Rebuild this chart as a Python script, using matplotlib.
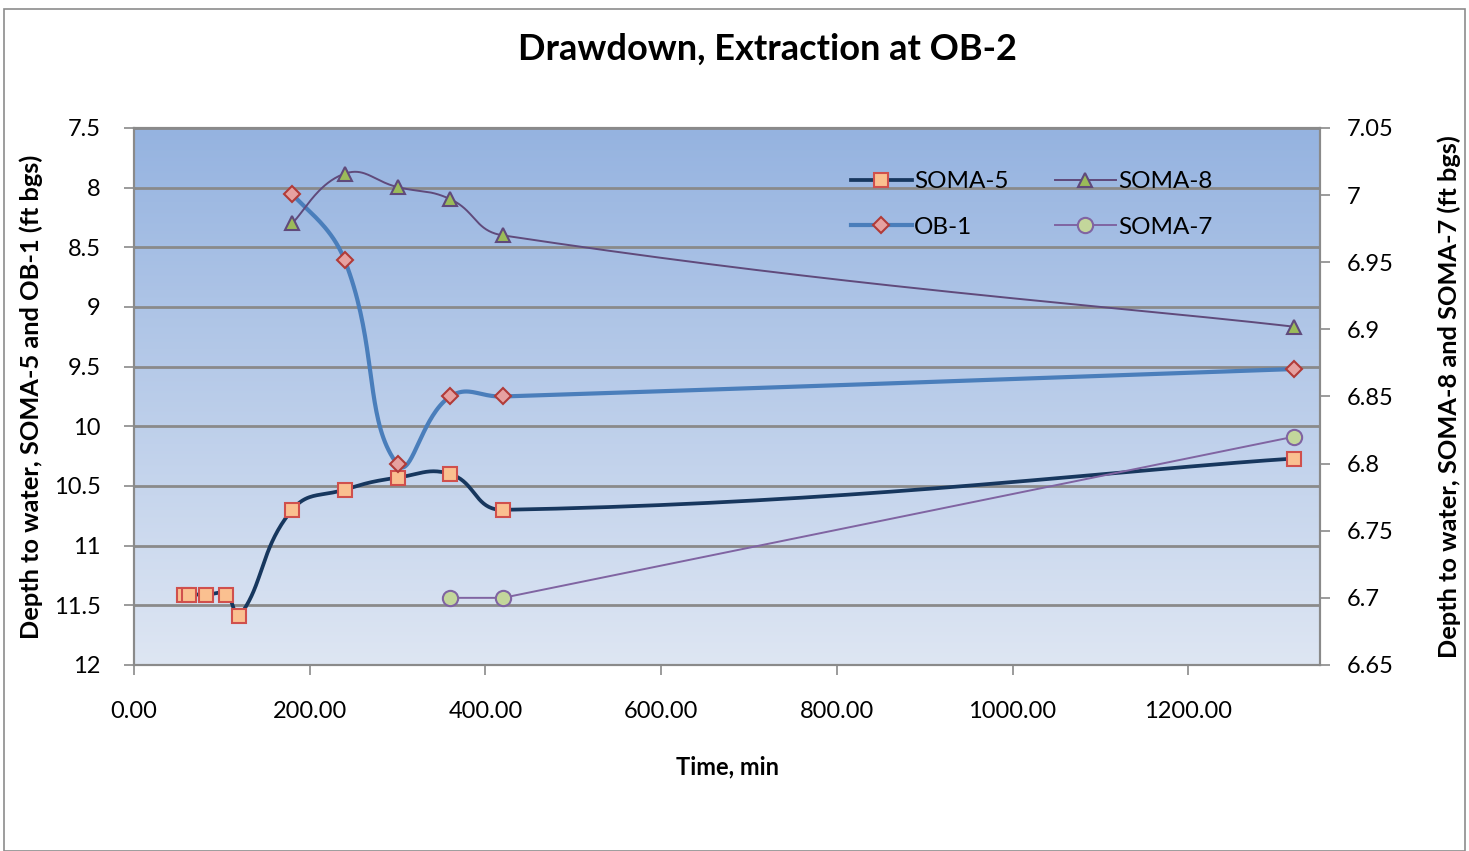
import numpy as np
import matplotlib
matplotlib.use("Agg")
import matplotlib.pyplot as plt
from matplotlib.patches import Rectangle
from matplotlib.lines import Line2D

plt.rcParams['font.family'] = ['Lato', 'DejaVu Sans']

# --- data ---
soma5_t = [57, 63, 82, 105, 120, 180, 240, 300, 360, 420, 1320]
soma5_d = [11.41, 11.41, 11.41, 11.41, 11.59, 10.70, 10.53, 10.43, 10.40, 10.70, 10.27]

ob1_t = [180, 240, 300, 360, 420, 1320]
ob1_d = [8.05, 8.61, 10.32, 9.75, 9.75, 9.52]

soma8_t = [180, 240, 300, 360, 420, 1320]
soma8_d = [6.979, 7.016, 7.006, 6.997, 6.970, 6.902]

soma7_t = [360, 420, 1320]
soma7_d = [6.70, 6.70, 6.82]

left_ticks = [7.5, 8, 8.5, 9, 9.5, 10, 10.5, 11, 11.5, 12]
right_ticks = [7.05, 7.0, 6.95, 6.9, 6.85, 6.8, 6.75, 6.7, 6.65]
x_ticks = [0, 200, 400, 600, 800, 1000, 1200]


def smooth(xs, ys, sx, sy, f=0.45, n=40):
    # Excel-like smoothed line: bezier segments, tangents built in pixel space
    p = np.column_stack([np.array(xs, float) * sx, np.array(ys, float) * sy])
    m = len(p)
    tan_in = np.zeros_like(p)
    tan_out = np.zeros_like(p)
    for i in range(m):
        a = p[max(i - 1, 0)]
        b = p[min(i + 1, m - 1)]
        d0 = np.linalg.norm(p[i] - a)
        d1 = np.linalg.norm(b - p[i])
        tot = d0 + d1
        if tot == 0:
            continue
        tan_in[i] = -f * d0 / tot * (b - a)
        tan_out[i] = f * d1 / tot * (b - a)
    pts = [p[0]]
    tt = np.linspace(0, 1, n)[1:, None]
    for i in range(m - 1):
        p0, p3 = p[i], p[i + 1]
        c1 = p0 + tan_out[i] * (0.5 if i == 0 else 1)
        c2 = p3 + tan_in[i + 1] * (0.5 if i + 1 == m - 1 else 1)
        seg = ((1 - tt) ** 3) * p0 + 3 * ((1 - tt) ** 2) * tt * c1 + 3 * (1 - tt) * tt ** 2 * c2 + tt ** 3 * p3
        pts.extend(seg)
    pts = np.array(pts)
    return pts[:, 0] / sx, pts[:, 1] / sy


fig = plt.figure(figsize=(14.69, 8.51), dpi=100)
fig.patches.append(Rectangle((0.003, 0.0), 0.994, 0.99, transform=fig.transFigure,
                             fill=False, edgecolor='#8c8c8c', linewidth=1.2))

ax = fig.add_axes([0.0912, 0.2186, 0.8074, 0.631])
ax2 = ax.twinx()

# gradient background
grad = np.linspace(0, 1, 256)[:, None]
top = np.array([0x95, 0xB3, 0xE0]) / 255
bot = np.array([0xDE, 0xE6, 0xF3]) / 255
img = top * (1 - grad[..., None]) + bot * grad[..., None]
img = np.repeat(img, 2, axis=1)
ax.imshow(img, extent=[0, 1, 0, 1], transform=ax.transAxes, aspect='auto', zorder=0)

ax.set_xlim(0, 1350)
ax.set_ylim(12, 7.5)
ax2.set_ylim(6.65, 7.05)
ax2.patch.set_visible(False)

ax.set_yticks(left_ticks)
ax.set_yticklabels(['%g' % v for v in left_ticks])
ax2.set_yticks(right_ticks)
ax2.set_yticklabels(['%g' % v for v in right_ticks])
ax.set_xticks(x_ticks)
ax.set_xticklabels(['%.2f' % v for v in x_ticks])

ax.grid(axis='y', color='#8a8a8a', linewidth=2.0, zorder=1)
ax.set_axisbelow(True)

sx = 0.878
sy_l = 119.3
sy_r = 1342.5

x5, y5 = smooth(soma5_t, soma5_d, sx, sy_l)
ax.plot(x5, y5, color='#17375E', linewidth=2.7, zorder=3)
ax.plot(soma5_t, soma5_d, linestyle='none', marker='s', markersize=10,
        markerfacecolor='#FAC090', markeredgecolor='#D0504D', markeredgewidth=1.5, zorder=4)

xo, yo = smooth(ob1_t, ob1_d, sx, sy_l)
ax.plot(xo, yo, color='#4A7EBB', linewidth=3.0, zorder=3)
ax.plot(ob1_t, ob1_d, linestyle='none', marker='D', markersize=8,
        markerfacecolor='#E6A1A0', markeredgecolor='#B13B38', markeredgewidth=1.5, zorder=4)

x8, y8 = smooth(soma8_t, soma8_d, sx, sy_r)
ax2.plot(x8, y8, color='#604A7B', linewidth=1.4, zorder=3)
ax2.plot(soma8_t, soma8_d, linestyle='none', marker='^', markersize=10,
         markerfacecolor='#9BBB59', markeredgecolor='#604A7B', markeredgewidth=1.5, zorder=4)

ax2.plot(soma7_t, soma7_d, color='#8064A2', linewidth=1.4, marker='o', markersize=11,
         markerfacecolor='#C3D69B', markeredgecolor='#8064A2', markeredgewidth=1.5, zorder=4)

for a in (ax, ax2):
    for s in a.spines.values():
        s.set_color('#8a8a8a')
        s.set_linewidth(1.5)
    a.tick_params(colors='#8a8a8a', labelcolor='black', labelsize=17, length=7, width=1.2)
ax.tick_params(axis='y', pad=17)
ax2.tick_params(axis='y', pad=12)
ax.tick_params(axis='x', pad=19)

ax.set_title('Drawdown, Extraction at OB-2', fontsize=26, fontweight='bold', pad=49, x=0.534)
ax.set_xlabel('Time, min', fontsize=17, fontweight='bold', labelpad=24)
ax.set_ylabel('Depth to water, SOMA-5 and OB-1 (ft bgs)', fontsize=18.3, fontweight='bold', labelpad=8)
ax2.set_ylabel('Depth to water, SOMA-8 and SOMA-7 (ft bgs)', fontsize=18.3, fontweight='bold', labelpad=32)

handles = [
    Line2D([], [], color='#17375E', linewidth=2.7, marker='s', markersize=10,
           markerfacecolor='#FAC090', markeredgecolor='#D0504D', markeredgewidth=1.5),
    Line2D([], [], color='#4A7EBB', linewidth=3.0, marker='D', markersize=8,
           markerfacecolor='#E6A1A0', markeredgecolor='#B13B38', markeredgewidth=1.5),
    Line2D([], [], color='#604A7B', linewidth=1.4, marker='^', markersize=10,
           markerfacecolor='#9BBB59', markeredgecolor='#604A7B', markeredgewidth=1.5),
    Line2D([], [], color='#8064A2', linewidth=1.4, marker='o', markersize=11,
           markerfacecolor='#C3D69B', markeredgecolor='#8064A2', markeredgewidth=1.5),
]
labels = ['SOMA-5', 'OB-1', 'SOMA-8', 'SOMA-7']
ax2.legend(handles, labels, ncol=2, frameon=False, fontsize=17.5, loc='upper left',
           bbox_to_anchor=(0.586, 0.96), handlelength=2.5, handletextpad=0.1,
           columnspacing=1.9, labelspacing=1.0)

fig.savefig('out.png', dpi=100)
